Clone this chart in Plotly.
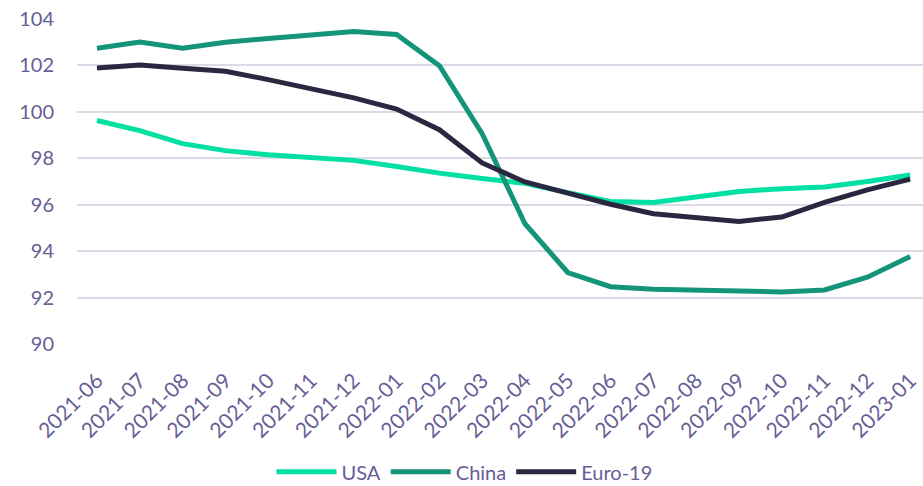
import plotly.graph_objects as go

months = ["2021-06", "2021-07", "2021-08", "2021-09", "2021-10", "2021-11", "2021-12",
          "2022-01", "2022-02", "2022-03", "2022-04", "2022-05", "2022-06", "2022-07",
          "2022-08", "2022-09", "2022-10", "2022-11", "2022-12", "2023-01"]

usa = [99.63, 99.19, 98.63, 98.33, 98.15, 98.02, 97.91, 97.65, 97.36, 97.13,
       96.92, 96.52, 96.14, 96.10, 96.35, 96.57, 96.69, 96.76, 97.00, 97.28]
china = [102.74, 103.01, 102.74, 103.00, 103.16, 103.30, 103.46, 103.33, 101.99, 99.06,
         95.18, 93.08, 92.47, 92.36, 92.33, 92.30, 92.24, 92.33, 92.88, 93.77]
euro = [101.89, 102.02, 101.88, 101.75, 101.39, 101.00, 100.60, 100.12, 99.23, 97.80,
        96.98, 96.50, 96.02, 95.61, 95.42, 95.28, 95.47, 96.10, 96.64, 97.10]

series_names = ["USA", "China", "Euro-19"]
series_colors = ["#00E0A2", "#14957A", "#2A2740"]
y_ticks = [90, 92, 94, 96, 98, 100, 102, 104]

text_color = "#675E96"
font_family = "Lato, 'Open Sans', sans-serif"

fig = go.Figure()
for name, vals, col in zip(series_names, [usa, china, euro], series_colors):
    fig.add_trace(go.Scatter(
        x=months, y=vals, name=name, mode="lines",
        line=dict(color=col, width=5),
    ))

fig.update_layout(
    width=923, height=486,
    margin=dict(l=77, r=0, t=19, b=142, autoexpand=False),
    paper_bgcolor="white", plot_bgcolor="white",
    font=dict(family=font_family, size=20, color=text_color),
    showlegend=True,
    legend=dict(orientation="h", x=0.458, xanchor="center", y=-0.393, yanchor="middle",
                font=dict(size=20, color=text_color), itemwidth=60,
                traceorder="normal"),
)
fig.update_xaxes(
    type="category", range=[-0.467, 19.3], tickangle=-45, automargin=False,
    showgrid=False, showline=False, zeroline=False,
    ticks="outside", ticklen=15, tickcolor="rgba(0,0,0,0)",
    tickfont=dict(size=21, color=text_color),
)
fig.update_yaxes(
    range=[90, 104], tickvals=y_ticks, automargin=False,
    showgrid=True, gridcolor="#DCDAE6", gridwidth=2,
    zeroline=False, showline=False,
    ticks="outside", ticklen=18, tickcolor="rgba(0,0,0,0)",
    tickfont=dict(size=20, color=text_color),
)

fig.write_html("out.html")
